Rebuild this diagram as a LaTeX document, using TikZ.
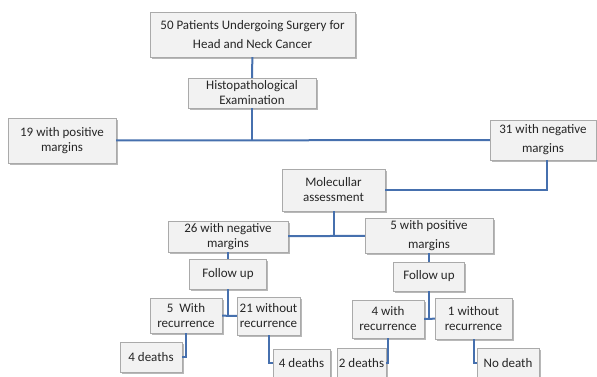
\documentclass[tikz,border=0pt]{standalone}
\usepackage{fontspec}
\setmainfont{Carlito}
\usepackage{tikz}
\usetikzlibrary{positioning,shadows}
\definecolor{linkblue}{RGB}{70,112,174}
\definecolor{boxfill}{RGB}{242,242,242}
\definecolor{boxline}{RGB}{170,170,170}
\tikzstyle{block} = [draw=boxline, fill=boxfill, rectangle, align=center,
inner sep=1pt, text=black!85, font=\fontsize{13}{15}\selectfont,
drop shadow={shadow xshift=1.5pt, shadow yshift=-1.5pt, fill=gray!70, opacity=0.8}]
\tikzstyle{link} = [draw=linkblue, line width=2pt]

\begin{document}
\begin{tikzpicture}[x=1pt, y=-1pt]
	\useasboundingbox (0,0) rectangle (597,376);
	\node [block, minimum width=205pt, minimum height=45pt] (Patients) at (252.5,34.5) {50 Patients Undergoing Surgery for\\[4pt] Head and Neck Cancer};
	\node [block, minimum width=128pt, minimum height=30pt] (Histo) at (252,93) {Histopathological\\ Examination};
	\node [block, minimum width=108pt, minimum height=45pt] (Pos19) at (62,140.5) {19 with positive\\ margins};
	\node [block, minimum width=106pt, minimum height=40pt] (Neg31) at (543,140) {31 with negative\\[4pt] margins};
	\node [block, minimum width=103pt, minimum height=42pt] (Molecular) at (333.5,190) {Molecullar\\ assessment};
	\node [block, minimum width=120pt, minimum height=31pt] (Neg26) at (228,236.5) {26 with negative\\ margins};
	\node [block, minimum width=128pt, minimum height=35pt] (Pos5) at (429,235.5) {5 with positive\\[4pt] margins};
	\node [block, minimum width=77pt, minimum height=30pt] (FollowL) at (228,274) {Follow up};
	\node [block, minimum width=71pt, minimum height=29pt] (FollowR) at (429,276.5) {Follow up};
	\node [block, minimum width=72pt, minimum height=35pt] (Rec5) at (186,315.5) {5~~With\\ recurrence};
	\node [block, minimum width=63pt, minimum height=38pt] (NoRec21) at (268.5,316) {21 without\\ recurrence};
	\node [block, minimum width=72pt, minimum height=38pt] (Rec4) at (388,319) {4 with\\ recurrence};
	\node [block, minimum width=77pt, minimum height=41pt] (NoRec1) at (473.5,318.5) {1 without\\ recurrence};
	\node [block, minimum width=62pt, minimum height=30pt] (DeathsA) at (151,357) {4 deaths};
	\node [block, minimum width=57pt, minimum height=28pt] (DeathsB) at (301.5,363) {4 deaths};
	\node [block, minimum width=49pt, minimum height=30pt] (DeathsC) at (361.5,363) {2 deaths};
	\node [block, minimum width=62pt, minimum height=30pt] (NoDeath) at (508,363) {No death};
	
	\draw [link] (Patients) -- (Histo);
	\draw [link] (Histo) -- (Histo |- Pos19);
	\draw [link] (Pos19) -- (Neg31);
	\draw [link] (Neg31.south -| 547,0) |- (Molecular);
	\draw [link] (Molecular) -- (Molecular |- Neg26);
	\draw [link] (Neg26) -- (Pos5);
	\draw [link] (Neg26) -- (FollowL);
	\draw [link] (Pos5) -- (FollowR);
	\draw [link] (FollowL) -- (FollowL |- Rec5);
	\draw [link] (Rec5) -- (NoRec21);
	\draw [link] (FollowR) -- (FollowR |- NoRec1);
	\draw [link] (Rec4) -- (NoRec1);
	\draw [link] (Rec5) |- (DeathsA);
	\draw [link] (NoRec21) |- (DeathsB);
	\draw [link] (Rec4) |- (DeathsC);
	\draw [link] (NoRec1) |- (NoDeath);
	
\end{tikzpicture}
\end{document}
